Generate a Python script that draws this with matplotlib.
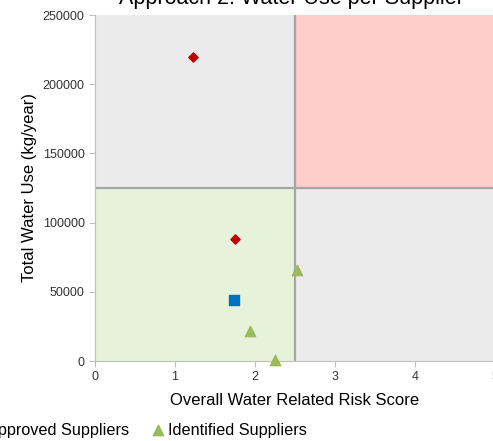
import matplotlib.pyplot as plt
from matplotlib.patches import Rectangle

plt.rcParams['font.family'] = ['Liberation Sans', 'DejaVu Sans']

# data
current_x = [1.22, 1.75]
current_y = [220000, 88000]
approved_x = [1.74]
approved_y = [44000]
identified_x = [1.94, 2.25, 2.52]
identified_y = [22000, 500, 66000]

x_split = 2.5
y_split = 125000
x_max = 5
y_max = 250000

fig = plt.figure(figsize=(4.93, 4.41), dpi=100)
# axes runs past the right edge, like the cropped original
ax = fig.add_axes([95 / 493, 80 / 441, 400 / 493, 346 / 441])

# quadrant backgrounds
ax.add_patch(Rectangle((0, 0), x_split, y_split, color='#E7F2DA', zorder=0))
ax.add_patch(Rectangle((0, y_split), x_split, y_max - y_split, color='#EBEBEB', zorder=0))
ax.add_patch(Rectangle((x_split, 0), x_max - x_split, y_split, color='#EBEBEB', zorder=0))
ax.add_patch(Rectangle((x_split, y_split), x_max - x_split, y_max - y_split, color='#FFCCCC', zorder=0))
ax.axvline(x_split, color='#A6A6A6', lw=1.6, zorder=1)
ax.axhline(y_split, color='#A6A6A6', lw=1.6, zorder=1)

ax.scatter(current_x, current_y, marker='D', s=22, color='#C00000', label='Current Suppliers', zorder=3)
ax.scatter(approved_x, approved_y, marker='s', s=45, color='#0070C0', label='Approved Suppliers', zorder=3)
ax.scatter(identified_x, identified_y, marker='^', s=55, color='#9BBB59', label='Identified Suppliers',
           zorder=3, clip_on=False)

ax.set_xlim(0, x_max)
ax.set_ylim(0, y_max)
ax.set_xticks(range(0, 6))
ax.set_yticks(range(0, 250001, 50000))
ax.tick_params(labelsize=9, colors='#BFBFBF', labelcolor='#333333', length=4)
for s in ['top', 'right']:
    ax.spines[s].set_visible(False)
for s in ['left', 'bottom']:
    ax.spines[s].set_color('#BFBFBF')

ax.set_xlabel('Overall Water Related Risk Score', fontsize=12, labelpad=7)
ax.set_ylabel('Total Water Use (kg/year)', fontsize=12, labelpad=4)
ax.text(0.49, 1.032, 'Approach 2: Water Use per Supplier', transform=ax.transAxes,
        ha='center', va='baseline', fontsize=15.5)

ax.legend(loc='center', bbox_to_anchor=(-0.10, -0.2), ncol=3, frameon=False,
          fontsize=11.7, handletextpad=0.1, columnspacing=1.3, handlelength=1.0)

fig.savefig('out.png', dpi=100)
